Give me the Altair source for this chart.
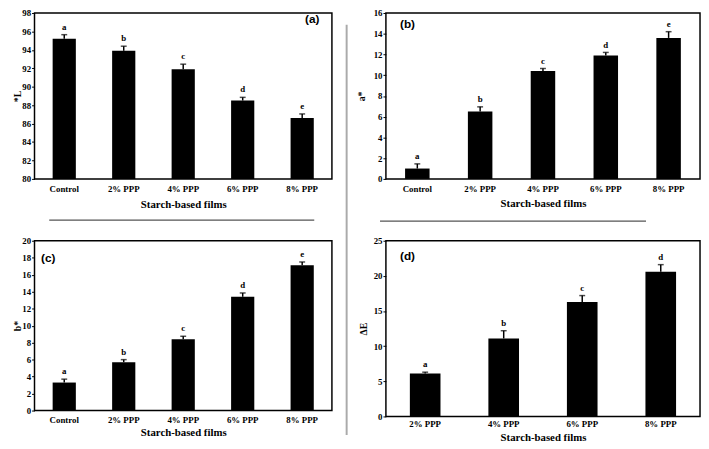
import altair as alt
import pandas as pd

# ---------------- data ----------------
cats5 = ["Control", "2% PPP", "4% PPP", "6% PPP", "8% PPP"]
cats4 = ["2% PPP", "4% PPP", "6% PPP", "8% PPP"]

L_vals = [95.2, 93.9, 91.9, 88.5, 86.6]
L_err = [0.45, 0.5, 0.55, 0.35, 0.45]
L_lets = ["a", "b", "c", "d", "e"]
L_ticks = [80, 82, 84, 86, 88, 90, 92, 94, 96, 98]

A_vals = [1.0, 6.5, 10.4, 11.9, 13.6]
A_err = [0.45, 0.45, 0.25, 0.3, 0.6]
A_lets = ["a", "b", "c", "d", "e"]
A_ticks = [0, 2, 4, 6, 8, 10, 12, 14, 16]

B_vals = [3.3, 5.7, 8.4, 13.4, 17.1]
B_err = [0.4, 0.3, 0.35, 0.45, 0.4]
B_lets = ["a", "b", "c", "d", "e"]
B_ticks = [0, 2, 4, 6, 8, 10, 12, 14, 16, 18, 20]

E_vals = [6.1, 11.1, 16.3, 20.6]
E_err = [0.2, 1.1, 0.9, 1.0]
E_lets = ["a", "b", "c", "d"]
E_ticks = [0, 5, 10, 15, 20, 25]

SERIF = "Liberation Serif"
SANS = "Liberation Sans"


def panel(cats, vals, errs, lets, ticks, ytitle, width, height, tag, tag_x, tag_y,
          title_x, lab_pad, xtitle_y, extras=()):
    df = pd.DataFrame({
        "cat": cats,
        "val": vals,
        "top": [v + e for v, e in zip(vals, errs)],
        "let": lets,
    })
    ymin, ymax = ticks[0], ticks[-1]
    x = alt.X(
        "cat:N", sort=cats,
        scale=alt.Scale(paddingInner=0.61, paddingOuter=0.305),
        axis=alt.Axis(title="Starch-based films", labelAngle=0, ticks=False, tickSize=0,
                      domain=False, labelPadding=lab_pad, labelBaseline="top",
                      titleY=xtitle_y, titleBaseline="middle", titleFontSize=11),
    )
    yscale = alt.Scale(domain=[ymin, ymax], zero=False, nice=False)
    yaxis = alt.Axis(title=ytitle, values=ticks, titleX=title_x, titleY=height / 2,
                     titleAngle=270, titleBaseline="middle", titleAlign="center",
                     tickSize=3, labelPadding=1, domain=False, titleFontSize=10)
    base = alt.Chart(df)
    bars = base.mark_bar(color="black").encode(
        x=x, y=alt.Y("val:Q", scale=yscale, axis=yaxis), y2=alt.datum(ymin))
    err = base.mark_rule(color="black", strokeWidth=1.5).encode(
        x=x, y=alt.Y("val:Q", scale=yscale, axis=yaxis), y2="top:Q")
    cap = base.mark_tick(color="black", size=6, thickness=1.5).encode(
        x=x, y=alt.Y("top:Q", scale=yscale, axis=yaxis))
    txt = base.mark_text(baseline="bottom", dy=-3, font=SERIF, fontWeight="bold",
                         fontSize=9, color="black").encode(
        x=x, y=alt.Y("top:Q", scale=yscale, axis=yaxis), text="let:N")
    lab = alt.Chart(pd.DataFrame({"t": [tag]})).mark_text(
        font=SANS, fontWeight="bold", fontSize=12, color="black", align="center",
        baseline="middle").encode(text="t:N", x=alt.value(tag_x), y=alt.value(tag_y))
    layers = [bars, err, cap, txt, lab] + list(extras)
    return alt.layer(*layers).properties(width=width, height=height)


one = pd.DataFrame({"d": [0]})
sep_a = alt.Chart(one).mark_rule(color="#555555", strokeWidth=1.5, clip=False).encode(
    x=alt.value(15), x2=alt.value(285), y=alt.value(211))
sep_b = alt.Chart(one).mark_rule(color="#555555", strokeWidth=1.5, clip=False).encode(
    x=alt.value(-6), x2=alt.value(265), y=alt.value(212))
vline = alt.Chart(one).mark_rule(color="#aaaaaa", strokeWidth=2, clip=False).encode(
    x=alt.value(318), y=alt.value(12), y2=alt.value(430))

pa = panel(cats5, L_vals, L_err, L_lets, L_ticks, "*L", 303, 169, "(a)", 283, 6,
           -17, 6, 26, extras=(sep_a, vline))
pb = panel(cats5, A_vals, A_err, A_lets, A_ticks, "a*", 320, 169, "(b)", 22, 11,
           -25, 6, 25, extras=(sep_b,))
pc = panel(cats5, B_vals, B_err, B_lets, B_ticks, "b*", 303, 173, "(c)", 14, 18,
           -17, 5, 22)
pd_ = panel(cats4, E_vals, E_err, E_lets, E_ticks, "ΔE", 320, 179, "(d)", 22, 16,
            -23, 3, 21)

chart = alt.concat(
    pa, pb, pc, pd_, columns=2, bounds="flush",
    spacing={"row": 63, "column": 55},
).properties(
    padding={"left": 4, "top": -4, "right": 0, "bottom": 0},
    background="white",
).configure_view(
    stroke="black", strokeWidth=1.5
).configure_axis(
    labelFont=SERIF, labelFontWeight="bold", labelFontSize=9, labelColor="black",
    titleFont=SERIF, titleFontWeight="bold", titleColor="black",
    tickColor="black", grid=False
)

chart.save("out.html", embed_options={"renderer": "svg", "actions": False})
